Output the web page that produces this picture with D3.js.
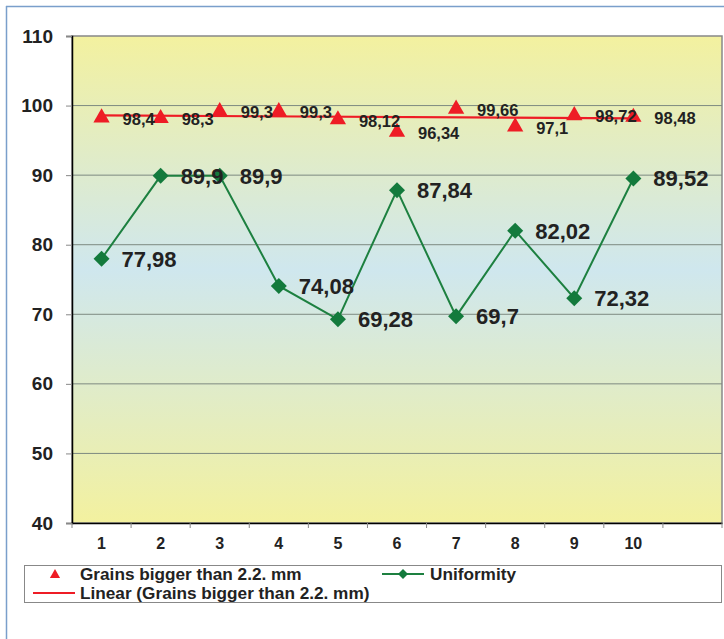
<!DOCTYPE html>
<html><head><meta charset="utf-8">
<script src="https://cdn.jsdelivr.net/npm/d3@7"></script>
<style>body{margin:0;background:#fff}svg{display:block}text{font-family:"Liberation Sans",Arial,sans-serif;font-weight:bold;fill:#222}</style>
</head><body>
<script>
const categories = ["1","2","3","4","5","6","7","8","9","10",""];
const grains = [98.4, 98.3, 99.3, 99.3, 98.12, 96.34, 99.66, 97.1, 98.72, 98.48];
const uniformity = [77.98, 89.9, 89.9, 74.08, 69.28, 87.84, 69.7, 82.02, 72.32, 89.52];
const yTicks = [40, 50, 60, 70, 80, 90, 100, 110];
const grainLabels = ["98,4","98,3","99,3","99,3","98,12","96,34","99,66","97,1","98,72","98,48"];
const uniLabels = ["77,98","89,9","89,9","74,08","69,28","87,84","69,7","82,02","72,32","89,52"];

const W = 724, H = 639;
const svg = d3.select("body").append("svg").attr("width", W).attr("height", H);
const L = 72, T = 36, R = 722, B = 523;

svg.append("line").attr("x1",6).attr("x2",W).attr("y1",6.5).attr("y2",6.5).attr("stroke","#7a9fcb").attr("stroke-width",1.5);
svg.append("line").attr("x1",6.5).attr("x2",6.5).attr("y1",6).attr("y2",H).attr("stroke","#7a9fcb").attr("stroke-width",1.5);

const defs = svg.append("defs");
const g = defs.append("linearGradient").attr("id","bg").attr("x1",0).attr("x2",0).attr("y1",0).attr("y2",1);
g.append("stop").attr("offset","0%").attr("stop-color","#f3f19f");
g.append("stop").attr("offset","48%").attr("stop-color","#cfe7ee");
g.append("stop").attr("offset","100%").attr("stop-color","#f3f19f");

const x = d3.scaleBand().domain(categories.map((c,i)=>i)).range([L, R]);
const y = d3.scaleLinear().domain([40,110]).range([B, T]);
const cx = i => x(i) + x.bandwidth()/2;

svg.append("rect").attr("x",L).attr("y",T).attr("width",R-L).attr("height",B-T).attr("fill","url(#bg)").attr("stroke","#888").attr("stroke-width",1.5);

svg.append("g").selectAll("line").data(yTicks.filter(t=>t>40 && t<110)).join("line")
  .attr("x1",L).attr("x2",R).attr("y1",d=>y(d)).attr("y2",d=>y(d)).attr("stroke","#7d8a80").attr("stroke-width",1);

const ya = svg.append("g").attr("transform",`translate(${L},0)`).call(d3.axisLeft(y).tickValues(yTicks).tickSize(6).tickPadding(13));
ya.select(".domain").attr("stroke","#000").attr("stroke-width",1.5);
ya.selectAll(".tick line").attr("stroke","#888");
ya.selectAll(".tick text").attr("font-size",19).attr("font-family","Liberation Sans").attr("font-weight","bold").attr("fill","#222");

const xa = svg.append("g").attr("transform",`translate(0,${B})`).call(d3.axisBottom(x).tickFormat(i=>categories[i]).tickSize(0).tickPadding(15));
xa.select(".domain").attr("stroke","#000").attr("stroke-width",1.5);
xa.selectAll(".tick text").attr("font-size",16).attr("font-family","Liberation Sans").attr("font-weight","bold").attr("fill","#222");
svg.append("g").selectAll("line").data(d3.range(categories.length+1)).join("line")
  .attr("x1",i=>L + i*x.bandwidth()).attr("x2",i=>L + i*x.bandwidth()).attr("y1",B).attr("y2",B+5).attr("stroke","#888");

// least-squares trend line of grains
const n = grains.length;
const xs = grains.map((d,i)=>i+1);
const mx = d3.mean(xs), my = d3.mean(grains);
const slope = d3.sum(xs.map((xv,i)=>(xv-mx)*(grains[i]-my))) / d3.sum(xs.map(xv=>(xv-mx)**2));
const icpt = my - slope*mx;
svg.append("line").attr("x1",cx(0)).attr("x2",cx(n-1)).attr("y1",y(icpt+slope*1)).attr("y2",y(icpt+slope*n))
  .attr("stroke","#ee1c25").attr("stroke-width",2.2);

const tri = d3.symbol().type(d3.symbolTriangle).size(115);
svg.append("g").selectAll("path").data(grains).join("path")
  .attr("d",tri).attr("transform",(d,i)=>`translate(${cx(i)},${y(d)+1})`).attr("fill","#ee1c25");
svg.append("g").selectAll("text").data(grains).join("text")
  .attr("x",(d,i)=>cx(i)+21).attr("y",(d,i)=>y(d)+2).attr("dy","0.36em").attr("font-size",16.5).text((d,i)=>grainLabels[i]);

const line = d3.line().x((d,i)=>cx(i)).y(d=>y(d));
svg.append("path").datum(uniformity).attr("d",line).attr("fill","none").attr("stroke","#1d8040").attr("stroke-width",2);
const diamond = s => `M0,${-s}L${s},0L0,${s}L${-s},0Z`;
svg.append("g").selectAll("path").data(uniformity).join("path")
  .attr("d",diamond(8)).attr("transform",(d,i)=>`translate(${cx(i)},${y(d)})`).attr("fill","#137a3c");
svg.append("g").selectAll("text").data(uniformity).join("text")
  .attr("x",(d,i)=>cx(i)+20).attr("y",(d,i)=>y(d)).attr("dy","0.36em").attr("font-size",22).text((d,i)=>uniLabels[i]);

const lg = svg.append("g");
lg.append("rect").attr("x",24.5).attr("y",565.5).attr("width",697).attr("height",37).attr("fill","#fff").attr("stroke","#888").attr("stroke-width",1);
lg.append("path").attr("d",d3.symbol().type(d3.symbolTriangle).size(45)).attr("transform","translate(55,575)").attr("fill","#ee1c25");
lg.append("text").attr("x",80).attr("y",574).attr("dy","0.36em").attr("font-size",17.2).text("Grains bigger than 2.2. mm");
lg.append("line").attr("x1",382).attr("x2",424).attr("y1",574).attr("y2",574).attr("stroke","#1d8040").attr("stroke-width",2);
lg.append("path").attr("d",diamond(5)).attr("transform","translate(403,574)").attr("fill","#137a3c");
lg.append("text").attr("x",430).attr("y",574).attr("dy","0.36em").attr("font-size",17.2).text("Uniformity");
lg.append("line").attr("x1",33).attr("x2",75).attr("y1",593).attr("y2",593).attr("stroke","#ee1c25").attr("stroke-width",2);
lg.append("text").attr("x",80).attr("y",593).attr("dy","0.36em").attr("font-size",17.2).text("Linear (Grains bigger than 2.2. mm)");
</script>
</body></html>
